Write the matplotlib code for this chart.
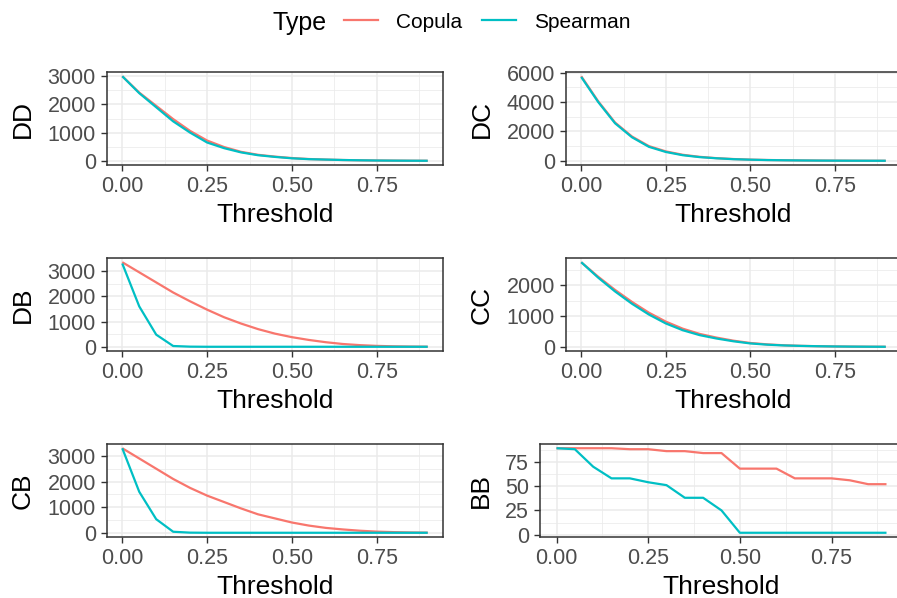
import numpy as np
import matplotlib.pyplot as plt
from matplotlib.ticker import MultipleLocator, FixedLocator
from matplotlib.lines import Line2D

plt.rcParams['font.family'] = ['Liberation Sans', 'DejaVu Sans']

# threshold grid shared by every panel
thresholds = [0.00, 0.05, 0.10, 0.15, 0.20, 0.25, 0.30, 0.35, 0.40, 0.45,
              0.50, 0.55, 0.60, 0.65, 0.70, 0.75, 0.80, 0.85, 0.90]

# counts, per panel
dd_copula = [3000, 2420, 1950, 1480, 1060, 720, 490, 320, 215, 150,
             100, 65, 45, 30, 20, 13, 8, 5, 3]
dd_spearman = [3000, 2400, 1900, 1400, 1000, 650, 450, 300, 200, 140,
               90, 60, 45, 30, 20, 12, 8, 5, 3]

dc_copula = [5750, 4050, 2600, 1650, 1000, 640, 410, 270, 180, 120,
             80, 55, 38, 25, 17, 11, 7, 4, 2]
dc_spearman = [5700, 4000, 2550, 1600, 950, 600, 380, 250, 170, 110,
               75, 50, 35, 23, 15, 10, 6, 4, 2]

db_copula = [3350, 2950, 2550, 2150, 1800, 1470, 1170, 920, 700, 520,
             380, 270, 180, 110, 65, 35, 18, 8, 3]
db_spearman = [3300, 1600, 480, 30, 5, 0, 0, 0, 0, 0,
               0, 0, 0, 0, 0, 0, 0, 0, 0]

cc_copula = [2750, 2280, 1850, 1460, 1110, 820, 590, 420, 300, 200,
             125, 80, 50, 32, 20, 12, 7, 4, 2]
cc_spearman = [2750, 2250, 1800, 1400, 1050, 760, 540, 380, 270, 180,
               110, 70, 45, 30, 20, 12, 7, 4, 2]

cb_copula = [3300, 2900, 2500, 2100, 1750, 1450, 1200, 950, 720, 560,
             400, 280, 190, 130, 80, 45, 25, 12, 5]
cb_spearman = [3300, 1600, 530, 40, 5, 0, 0, 0, 0, 0,
               0, 0, 0, 0, 0, 0, 0, 0, 0]

bb_copula = [89, 89, 89, 89, 88, 88, 86, 86, 84, 84,
             68, 68, 68, 58, 58, 58, 56, 52, 52]
bb_spearman = [89, 88, 70, 58, 58, 54, 51, 38, 38, 25,
               2, 2, 2, 2, 2, 2, 2, 2, 2]

panel_names = ['DD', 'DC', 'DB', 'CC', 'CB', 'BB']
copula_series = [dd_copula, dc_copula, db_copula, cc_copula, cb_copula, bb_copula]
spearman_series = [dd_spearman, dc_spearman, db_spearman, cc_spearman, cb_spearman, bb_spearman]
y_steps = [1000, 2000, 1000, 1000, 1000, 25]
x_ticks = [0.00, 0.25, 0.50, 0.75]

COPULA = '#F8766D'
SPEARMAN = '#00BFC4'

W, H = 897, 598
fig = plt.figure(figsize=(W / 100, H / 100), dpi=100)

# panel boxes in pixels: left, top, right, bottom
boxes = [(107, 72, 443, 165), (566, 72, 901, 165),
         (107, 258, 443, 351), (566, 258, 901, 351),
         (107, 444, 443, 537), (540, 444, 903, 537)]

for name, cop, spe, step, (l, t, r, b) in zip(panel_names, copula_series,
                                               spearman_series, y_steps, boxes):
    ax = fig.add_axes([l / W, 1 - b / H, (r - l) / W, (b - t) / H])
    ax.plot(thresholds, cop, color=COPULA, lw=1.6, solid_capstyle='butt')
    ax.plot(thresholds, spe, color=SPEARMAN, lw=1.6, solid_capstyle='butt')
    ax.margins(x=0.05, y=0.05)

    ax.xaxis.set_major_locator(FixedLocator(x_ticks))
    ax.xaxis.set_minor_locator(FixedLocator([0.125, 0.375, 0.625, 0.875]))
    ax.set_xticklabels([f'{v:.2f}' for v in x_ticks])
    ax.yaxis.set_major_locator(MultipleLocator(step))
    ax.yaxis.set_minor_locator(MultipleLocator(step / 2))

    ax.grid(which='major', color='#EBEBEB', lw=1.1)
    ax.grid(which='minor', color='#EBEBEB', lw=0.55)
    ax.set_axisbelow(True)
    for s in ax.spines.values():
        s.set_color('#333333')
        s.set_linewidth(1.1)
    ax.tick_params(which='major', length=4.5, width=1.0, color='#333333',
                   labelsize=15.5, labelcolor='#4D4D4D', pad=3.5)
    ax.tick_params(which='minor', length=0)

    ax.set_xlabel('Threshold', fontsize=19, labelpad=4)
    ax.set_ylabel(name, fontsize=19, labelpad=9)

# legend on top with title to the left
fig.text(272 / W, 1 - 23 / H, 'Type', fontsize=18, ha='left', va='center')
handles = [Line2D([], [], color=COPULA, lw=1.6), Line2D([], [], color=SPEARMAN, lw=1.6)]
fig.legend(handles, ['Copula', 'Spearman'], loc='center left',
           bbox_to_anchor=(344 / W, 1 - 22 / H), ncol=2, frameon=False,
           fontsize=15, handlelength=1.65, handletextpad=0.85,
           columnspacing=0.95, borderpad=0, borderaxespad=0)

fig.savefig('out.png', dpi=100)
